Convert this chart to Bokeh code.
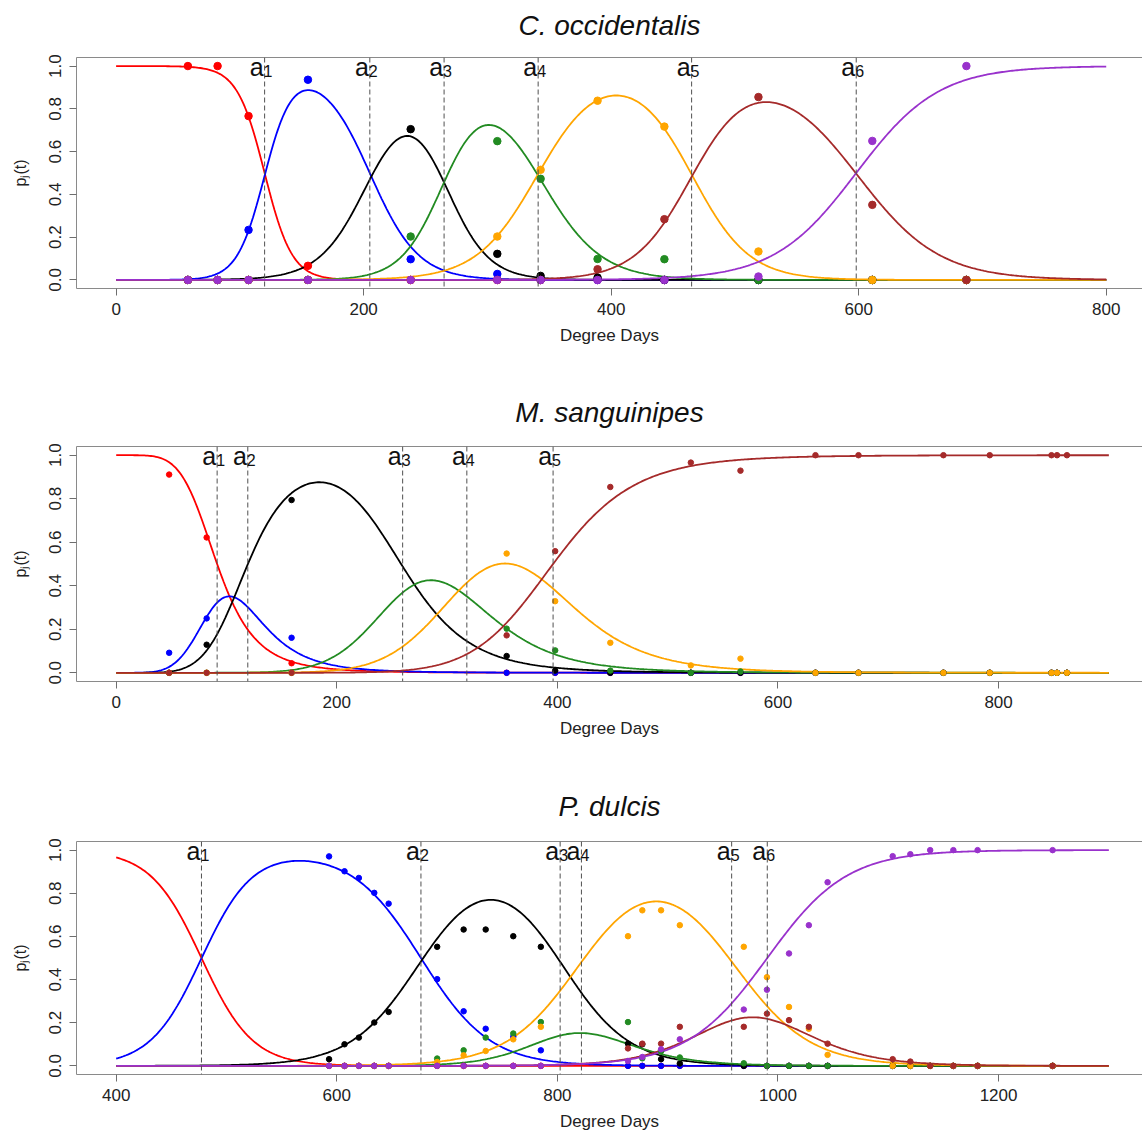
import numpy as np
from bokeh.plotting import figure
from bokeh.layouts import column
from bokeh.models import Span, Label, LinearAxis, FixedTicker, PrintfTickFormatter, Range1d
from bokeh.embed import file_html
from bokeh.resources import INLINE

FONT = "Liberation Sans"
stage_colors = ["#FF0000", "#0000FF", "#000000", "#228B22", "#FFA500", "#A52A2A", "#9932CC"]
y_ticks = [0.0, 0.2, 0.4, 0.6, 0.8, 1.0]
x_label_text = "Degree Days"
y_label_text = "p\u2c7c(t)"

# ---------------- C. occidentalis ----------------
co_title = "C. occidentalis"
co_days = [58, 82, 107, 155, 238, 308, 343, 389, 443, 519, 611, 687]
co_p1 = [1.0, 1.0, 0.766, 0.066, 0, 0, 0, 0, 0, 0, 0, 0]
co_p2 = [0, 0, 0.234, 0.936, 0.097, 0.028, 0, 0, 0, 0, 0, 0]
co_p3 = [0, 0, 0, 0, 0.705, 0.122, 0.019, 0.011, 0, 0, 0, 0]
co_p4 = [0, 0, 0, 0, 0.203, 0.649, 0.473, 0.098, 0.097, 0, 0, 0]
co_p5 = [0, 0, 0, 0, 0, 0.203, 0.515, 0.838, 0.717, 0.133, 0, 0]
co_p6 = [0, 0, 0, 0, 0, 0, 0, 0.05, 0.284, 0.855, 0.351, 0]
co_p7 = [0, 0, 0, 0, 0, 0, 0, 0, 0, 0.016, 0.65, 1.0]
co_thresholds = [120, 205, 265, 341, 465, 598]
co_spreads = [11.1, 19.5, 17.3, 24.6, 23.0, 33.2]      # in degree days
co_log_time = False
co_xticks = [0, 200, 400, 600, 800]
co_day_span = [0, 800]

# ---------------- M. sanguinipes ----------------
ms_title = "M. sanguinipes"
ms_days = [48, 82, 159, 354, 398, 448, 521, 566, 634, 673, 750, 792, 848, 853, 862]
ms_p1 = [0.911, 0.622, 0.044, 0, 0, 0, 0, 0, 0, 0, 0, 0, 0, 0, 0]
ms_p2 = [0.092, 0.25, 0.161, 0, 0, 0, 0, 0, 0, 0, 0, 0, 0, 0, 0]
ms_p3 = [0, 0.129, 0.794, 0.077, 0.01, 0, 0, 0, 0, 0, 0, 0, 0, 0, 0]
ms_p4 = [0, 0, 0, 0.203, 0.103, 0.01, 0, 0.006, 0, 0, 0, 0, 0, 0, 0]
ms_p5 = [0, 0, 0, 0.548, 0.329, 0.138, 0.034, 0.065, 0, 0, 0, 0, 0, 0, 0]
ms_p6 = [0, 0, 0, 0.172, 0.559, 0.854, 0.966, 0.929, 1.0, 1.0, 1.0, 1.0, 1.0, 1.0, 1.0]
ms_thresholds = [91.5, 119.3, 259.7, 317.9, 396.1]
ms_spreads = [0.19, 0.173, 0.116, 0.107, 0.093]          # on log(degree days)
ms_log_time = True
ms_xticks = [0, 200, 400, 600, 800]
ms_day_span = [0, 900]

# ---------------- P. dulcis ----------------
pd_title = "P. dulcis"
pd_days = [593, 607, 620, 634, 647, 691, 715, 735, 760, 785, 864, 877, 894,
           911, 969, 990, 1010, 1028, 1045, 1104, 1120, 1138, 1159, 1181, 1249]
pd_p1 = [0, 0, 0, 0, 0, 0, 0, 0, 0, 0, 0, 0, 0, 0, 0, 0, 0, 0, 0, 0, 0, 0, 0, 0, 0]
pd_p2 = [0.971, 0.902, 0.871, 0.802, 0.752, 0.402, 0.253, 0.172, 0.135, 0.072, 0, 0, 0,
         0, 0, 0, 0, 0, 0, 0, 0, 0, 0, 0, 0]
pd_p3 = [0.031, 0.1, 0.131, 0.201, 0.25, 0.552, 0.632, 0.632, 0.601, 0.552, 0.103, 0.1, 0.031,
         0.011, 0, 0, 0, 0, 0, 0, 0, 0, 0, 0, 0]
pd_p4 = [0, 0, 0, 0, 0, 0.034, 0.072, 0.131, 0.15, 0.203, 0.203, 0.035, 0.068,
         0.039, 0.012, 0, 0, 0, 0, 0, 0, 0, 0, 0, 0]
pd_p5 = [0, 0, 0, 0, 0, 0.018, 0.049, 0.069, 0.123, 0.181, 0.601, 0.721, 0.721,
         0.652, 0.552, 0.411, 0.273, 0.172, 0.051, 0, 0, 0, 0, 0, 0]
pd_p6 = [0, 0, 0, 0, 0, 0, 0, 0, 0, 0, 0.081, 0.103, 0.103,
         0.181, 0.181, 0.242, 0.212, 0.181, 0.103, 0.031, 0.02, 0, 0, 0, 0]
pd_p7 = [0, 0, 0, 0, 0, 0, 0, 0, 0, 0, 0.023, 0.041, 0.077,
         0.123, 0.261, 0.353, 0.521, 0.652, 0.851, 0.972, 0.981, 1.0, 1.0, 1.0, 1.0]
pd_thresholds = [477.3, 676.3, 802.5, 821.8, 958.0, 990.3]
pd_spreads = [23.1, 31.2, 30.7, 33.4, 34.6, 36.0]       # in degree days
pd_log_time = False
pd_xticks = [400, 600, 800, 1000, 1200]
pd_day_span = [400, 1300]

BOX = "#8a8a8a"
TICK = "#6e6e6e"
TXT = "#222222"


def model_curves(day_span, thresholds, spreads, log_time):
    """Fitted cumulative-logit stage curves defined by the thresholds a_j."""
    t = np.linspace(day_span[0], day_span[1], 601)
    if log_time:
        tt = np.log(np.maximum(t, 1e-6))
        aa = np.log(np.array(thresholds, dtype=float))
    else:
        tt = t
        aa = np.array(thresholds, dtype=float)
    F = [1.0 / (1.0 + np.exp(-(tt - a) / s)) for a, s in zip(aa, spreads)]
    curves = [1.0 - F[0]] + [F[i - 1] - F[i] for i in range(1, len(F))] + [F[-1]]
    return t, curves


def make_panel(title, days, stages, thresholds, spreads, log_time, xticks, day_span,
               x_range, height, b_top, frame_h, b_left, dot_size, title_gap):
    b_bottom = height - b_top - frame_h
    p = figure(width=1142, height=height, x_range=Range1d(*x_range),
               y_range=Range1d(-0.04, 1.04), output_backend="svg",
               toolbar_location=None, min_border_left=b_left, min_border_right=0,
               min_border_top=b_top, min_border_bottom=b_bottom)
    p.outline_line_color = None
    p.xgrid.visible = False
    p.ygrid.visible = False
    p.background_fill_color = "white"
    p.border_fill_color = "white"

    p.title.text = title
    p.title.text_font = FONT
    p.title.text_font_size = "28px"
    p.title.text_font_style = "italic"
    p.title.text_color = "#111111"
    p.title.align = "center"
    p.title.standoff = 0

    for ax in (p.xaxis[0], p.yaxis[0]):
        ax.axis_line_color = BOX
        ax.axis_line_width = 1
        ax.major_tick_line_color = TICK
        ax.major_tick_out = 7
        ax.major_tick_in = 0
        ax.minor_tick_line_color = None
        ax.major_label_text_font = FONT
        ax.major_label_text_font_size = "17px"
        ax.major_label_text_color = TXT
        ax.axis_label_text_font = FONT
        ax.axis_label_text_font_style = "normal"
        ax.axis_label_text_color = TXT
    xa = p.xaxis[0]
    xa.ticker = FixedTicker(ticks=xticks)
    xa.major_label_standoff = 7
    xa.axis_label = x_label_text
    xa.axis_label_text_font_size = "17px"
    xa.axis_label_standoff = 8
    ya = p.yaxis[0]
    ya.ticker = FixedTicker(ticks=y_ticks)
    ya.formatter = PrintfTickFormatter(format="%.1f")
    ya.major_label_orientation = "vertical"
    ya.major_label_standoff = 8
    ya.axis_label = y_label_text
    ya.axis_label_text_font_size = "16px"
    ya.axis_label_standoff = 18

    # top edge of the box; a blank label's standoff sets the gap under the title
    top = LinearAxis(ticker=FixedTicker(ticks=[]), axis_line_color=BOX,
                     major_tick_line_color=None, minor_tick_line_color=None,
                     major_tick_out=0, major_tick_in=0, major_label_standoff=0,
                     major_label_text_font_size="0px",
                     axis_label="\u00a0", axis_label_text_font_size="2px",
                     axis_label_standoff=title_gap - 2)
    p.add_layout(top, "above")

    t, curves = model_curves(day_span, thresholds, spreads, log_time)
    for c, col in zip(curves, stage_colors):
        p.line(t, c, line_color=col, line_width=1.8)
    for vals, col in zip(stages, stage_colors):
        p.scatter(days, vals, size=dot_size, fill_color=col, line_color=col)

    for j, a in enumerate(thresholds):
        p.add_layout(Span(location=a, dimension="height", line_color="#505050",
                          line_dash="5 3", line_width=1))
        p.add_layout(Label(x=a, y=1.0, text="a", text_font=FONT, text_font_size="25px",
                           text_align="right", text_baseline="alphabetic",
                           x_offset=-1, y_offset=-1, text_color="#111111"))
        p.add_layout(Label(x=a, y=1.0, text=str(j + 1), text_font=FONT, text_font_size="16px",
                           text_align="left", text_baseline="alphabetic",
                           x_offset=-1, y_offset=-4.5, text_color="#111111"))
    return p


p1 = make_panel(co_title, co_days, [co_p1, co_p2, co_p3, co_p4, co_p5, co_p6, co_p7],
                co_thresholds, co_spreads, co_log_time, co_xticks, co_day_span,
                (-32, 829.3), 388, 57, 231, 74, 7.5, 14)
p2 = make_panel(ms_title, ms_days, [ms_p1, ms_p2, ms_p3, ms_p4, ms_p5, ms_p6],
                ms_thresholds, ms_spreads, ms_log_time, ms_xticks, ms_day_span,
                (-36, 930.5), 395, 58, 235, 75, 5.5, 16)
p3 = make_panel(pd_title, pd_days, [pd_p1, pd_p2, pd_p3, pd_p4, pd_p5, pd_p6, pd_p7],
                pd_thresholds, pd_spreads, pd_log_time, pd_xticks, pd_day_span,
                (364, 1330.5), 352, 58, 233, 76, 5.5, 17)

layout = column(p1, p2, p3, spacing=0)
open("out.html", "w").write(file_html(layout, INLINE))
